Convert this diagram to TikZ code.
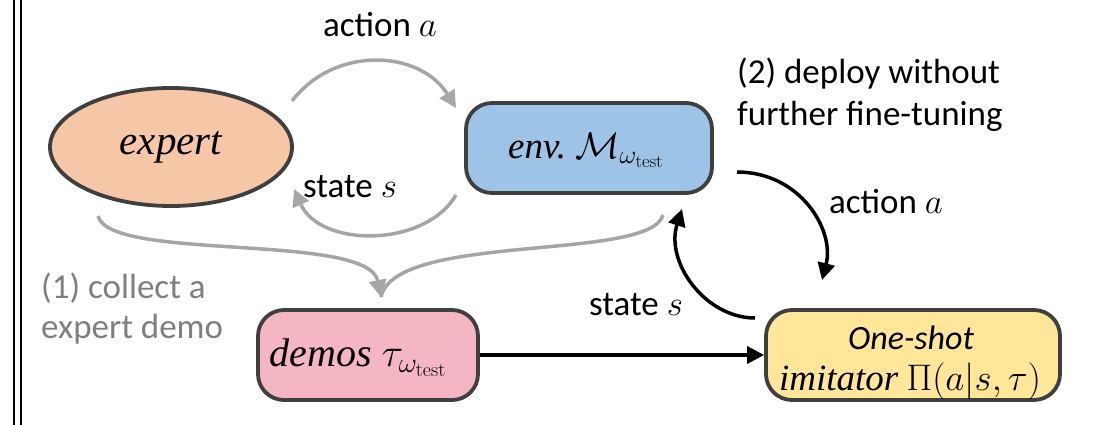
\RequirePackage{fix-cm}
\documentclass[tikz,border=0pt]{standalone}
\usepackage[no-math]{fontspec}
\setmainfont{Carlito}
\newfontfamily\serifit{Liberation Serif}[ItalicFont=* Italic]
\usetikzlibrary{arrows.meta,shapes.geometric}
\definecolor{edgegray}{HTML}{3F3F3F}
\definecolor{arrgray}{HTML}{A6A6A6}
\definecolor{txtgray}{HTML}{7F7F7F}
\definecolor{peach}{HTML}{F6C7A6}
\definecolor{skyblue}{HTML}{9DC3E6}
\definecolor{pinkfill}{HTML}{F5B6C3}
\definecolor{goldfill}{HTML}{FFE699}
\newcommand{\wtest}{\omega_{\mathrm{test}}}
\tikzset{
  lbl/.style={font=\fontsize{35}{40}\selectfont, inner sep=0pt},
  boxnode/.style={draw=edgegray, line width=3.8pt, rounded corners=26pt, inner sep=0pt},
  boxtext/.style={font=\fontsize{40}{34}\selectfont, inner sep=0pt},
  grayarr/.style={draw=arrgray, line width=3.5pt, -{Triangle[width=17pt,length=17pt]}},
  blackarr/.style={draw=black, line width=3.5pt, -{Triangle[width=17pt,length=17pt]}},
}
\begin{document}
\begin{tikzpicture}[x=1pt,y=-1pt]
\useasboundingbox (0,0) rectangle (1099,425);
% double rule on the left
\draw[line width=2.2pt] (14,0) -- (14,425);
\draw[line width=2.2pt] (21,0) -- (21,425);

% nodes
\node[draw=edgegray, line width=3.8pt, fill=peach, ellipse,
      minimum width=242pt, minimum height=118pt, inner sep=0pt,
      font=\fontsize{41}{40}\selectfont] (expert) at (171,147)
      {\serifit\itshape expert};
\node[boxnode, fill=skyblue, minimum width=246pt, minimum height=90pt] (env) at (589,148) {};
\node[boxtext, font=\fontsize{37}{34}\selectfont, anchor=base] (envtxt) at (586,158)
      {\serifit\itshape env.\ $\mathcal{M}_{\wtest}$};
\node[boxnode, fill=pinkfill, minimum width=220pt, minimum height=90pt] (demos) at (368,355) {};
\node[boxtext, anchor=base] (demostxt) at (358,366)
      {\serifit\itshape demos\ $\tau_{\wtest}$};
\node[boxnode, fill=goldfill, minimum width=294pt, minimum height=90pt] (imit) at (913,355) {};
\node[boxtext, font=\fontsize{34}{34}\selectfont\itshape, anchor=base] (imittxt1) at (911,349)
      {One-shot};
\node[boxtext, font=\fontsize{37}{34}\selectfont, anchor=base] (imittxt2) at (910,390)
      {{\serifit\itshape imitator} $\Pi(a|s,\tau)$};

% labels
\node[lbl, anchor=base] (lact) at (380,37) {action $a$};
\node[lbl, anchor=base] (lst) at (350,197) {state $s$};
\node[lbl, anchor=base west] (ldeploy) at (737,84) {(2) deploy without};
\node[lbl, anchor=base west] (ldeploy2) at (737,125) {further fine-tuning};
\node[lbl, anchor=base] (lact2) at (886,213) {action $a$};
\node[lbl, anchor=base] (lst2) at (636,315) {state $s$};
\node[lbl, anchor=base west, text=txtgray] (lcol) at (41,298) {(1) collect a};
\node[lbl, anchor=base west, text=txtgray] (lcol2) at (41,338) {expert demo};

% end points of the curved connectors
\coordinate (a1) at (292,101);
\coordinate (a2) at (456,108);
\coordinate (s1) at (456,195);
\coordinate (s2) at (294,189);
\coordinate (c1) at (98,216);
\coordinate (c2) at (663,215);
\coordinate (cm) at (381,297);
\coordinate (b1) at (737,172);
\coordinate (b2) at (822,280);
\coordinate (d1) at (755,318);
\coordinate (d2) at (682,209);

% expert <-> env (gray)
\draw[grayarr] (a1) .. controls (335,45) and (420,50) .. (a2);
\draw[grayarr] (s1) .. controls (425,248) and (320,248) .. (s2);
% collecting the demo
\draw[draw=arrgray, line width=3.5pt] (c2) .. controls (650,262) and (395,232) .. (cm);
\draw[grayarr] (c1) .. controls (110,262) and (368,232) .. (cm);

% imitator <-> env (black)
\draw[blackarr] (b1) .. controls (800,172) and (835,230) .. (b2);
\draw[blackarr] (d1) .. controls (705,318) and (665,262) .. (d2);
% demos -> imitator
\draw[blackarr] (demos.east) -- (imit.west);
\end{tikzpicture}
\end{document}
